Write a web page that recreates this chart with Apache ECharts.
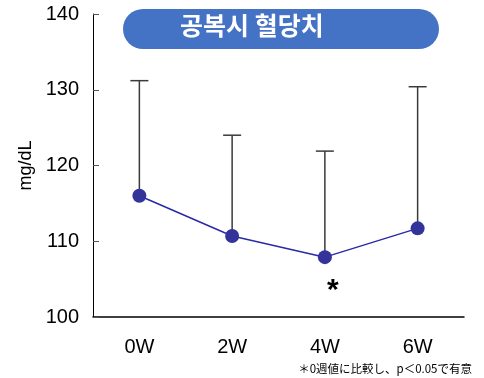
<!DOCTYPE html>
<html>
<head>
<meta charset="utf-8">
<style>
  html, body { margin: 0; padding: 0; background: #fff; }
  #chart { width: 484px; height: 378px; }
</style>
<script src="https://cdn.jsdelivr.net/npm/echarts@6/dist/echarts.min.js"></script>
</head>
<body>
<div id="chart"></div>
<script>
// Fasting blood glucose over 6 weeks (mean with upper SD)
const weeks = ['0W', '2W', '4W', '6W'];
const meanValues = [116.0, 110.7, 107.9, 111.7];
const upperValues = [131.2, 124.0, 121.9, 130.4];
const sigMarks = ['', '', '*', ''];
const yTicks = [100, 110, 120, 130, 140];

const FONT = '"Liberation Sans", Arial, sans-serif';
const chart = echarts.init(document.getElementById('chart'), null, { renderer: 'canvas' });

const errorData = weeks.map((w, i) => [i, meanValues[i], upperValues[i]]);

chart.setOption({
  animation: false,
  grid: { left: 93, right: 20, top: 14, bottom: 61 },
  xAxis: {
    type: 'category',
    data: weeks,
    boundaryGap: true,
    axisLine: { lineStyle: { color: '#000', width: 1.5 } },
    axisTick: { inside: true, length: 8, alignWithLabel: false, lineStyle: { color: '#555', width: 1 } },
    axisLabel: { color: '#000', fontSize: 20, fontFamily: FONT, margin: 20 }
  },
  yAxis: {
    type: 'value',
    min: yTicks[0],
    max: yTicks[yTicks.length - 1],
    interval: 10,
    name: 'mg/dL',
    nameLocation: 'middle',
    nameGap: 58,
    nameTextStyle: { color: '#000', fontSize: 18, fontFamily: FONT },
    axisLine: { show: true, lineStyle: { color: '#000', width: 1 } },
    axisTick: { show: true, inside: true, length: 6, lineStyle: { color: '#555' } },
    splitLine: { show: false },
    axisLabel: { color: '#000', fontSize: 20, fontFamily: FONT, margin: 14 }
  },
  series: [
    {
      type: 'custom',
      name: 'sd',
      z: 1,
      data: errorData,
      renderItem: function (params, api) {
        const base = api.coord([api.value(0), api.value(1)]);
        const top = api.coord([api.value(0), api.value(2)]);
        const half = 9;
        const style = { stroke: '#3a3a3a', lineWidth: 1.5 };
        return {
          type: 'group',
          children: [
            { type: 'line', shape: { x1: base[0], y1: base[1], x2: top[0], y2: top[1] }, style: style },
            { type: 'line', shape: { x1: top[0] - half, y1: top[1], x2: top[0] + half, y2: top[1] }, style: style }
          ]
        };
      }
    },
    {
      type: 'line',
      name: 'mean',
      z: 3,
      data: meanValues.map((v, i) => ({
        value: v,
        label: {
          show: sigMarks[i] !== '',
          formatter: sigMarks[i],
          position: 'bottom',
          distance: 12,
          offset: [8, 0],
          fontSize: 30,
          fontWeight: 'bold',
          color: '#000',
          fontFamily: FONT
        }
      })),
      symbol: 'circle',
      symbolSize: 14,
      itemStyle: { color: '#33339a' },
      lineStyle: { color: '#2a2aa6', width: 1.5 }
    }
  ],
  graphic: [
    {
      type: 'rect',
      left: 123,
      top: 9,
      shape: { width: 316, height: 40, r: 20 },
      style: { fill: '#4472c4' },
      z: 10
    },
    {
      type: 'text',
      left: 180,
      top: 13,
      style: {
        text: '공복시 혈당치',
        fill: '#fff',
        font: 'bold 25px "Noto Sans CJK KR", sans-serif'
      },
      z: 11
    },
    {
      type: 'text',
      right: 12,
      top: 363,
      style: {
        text: '＊0週値に比較し、p＜0.05で有意',
        fill: '#000',
        font: '11.5px "Noto Sans CJK JP", sans-serif'
      },
      z: 11
    }
  ]
});
</script>
</body>
</html>
